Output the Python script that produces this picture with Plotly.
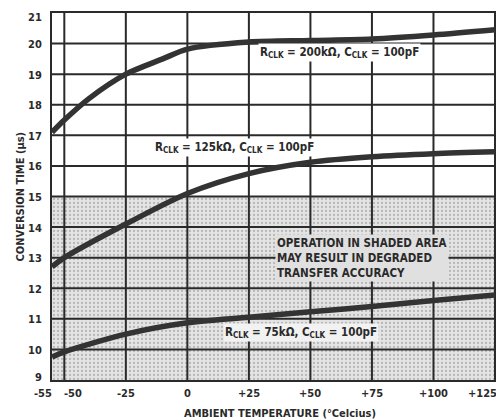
import plotly.graph_objects as go

# Data
temp_200k = [-55, -50, -40, -25, -10, 0, 25, 50, 75, 100, 125]
conv_200k = [17.1, 17.5, 18.2, 19.0, 19.5, 19.82, 20.05, 20.1, 20.15, 20.28, 20.45]

temp_125k = [-55, -50, -25, 0, 25, 50, 75, 100, 125]
conv_125k = [12.7, 13.0, 14.1, 15.1, 15.75, 16.12, 16.3, 16.4, 16.46]

temp_75k = [-55, -50, -25, 0, 25, 50, 75, 100, 125]
conv_75k = [9.75, 9.92, 10.5, 10.87, 11.05, 11.23, 11.4, 11.6, 11.78]

x_ticks = [-55, -50, -25, 0, 25, 50, 75, 100, 125]
x_tick_labels = ["-55", "-50", "-25", "0", "+25", "+50", "+75", "+100", "+125"]
y_ticks = list(range(9, 22))

shade_low, shade_high = 9, 15
x_min, x_max = -55, 125
y_min, y_max = 9, 21

FONT = "Liberation Sans Narrow, DejaVu Sans Condensed, Liberation Sans, Arial"
INK = "#2a2a2a"

fig = go.Figure()

# shaded area
fig.add_trace(go.Scatter(
    x=[x_min, x_max, x_max, x_min, x_min],
    y=[shade_low, shade_low, shade_high, shade_high, shade_low],
    fill="toself", mode="lines", line=dict(width=0),
    fillcolor="#d9d9d9",
    fillpattern=dict(shape=".", bgcolor="#e4e4e4", fgcolor="#8a8a8a", size=4, solidity=0.25),
    hoverinfo="skip", showlegend=False))

# grid lines as traces (above shade, below curves)
for xv in x_ticks[1:]:
    fig.add_trace(go.Scatter(x=[xv, xv], y=[y_min, y_max], mode="lines",
                             line=dict(color=INK, width=2), hoverinfo="skip", showlegend=False))
for yv in y_ticks[1:-1]:
    fig.add_trace(go.Scatter(x=[x_min, x_max], y=[yv, yv], mode="lines",
                             line=dict(color=INK, width=2), hoverinfo="skip", showlegend=False))

for tx, ty in [(temp_200k, conv_200k), (temp_125k, conv_125k), (temp_75k, conv_75k)]:
    fig.add_trace(go.Scatter(x=tx, y=ty, mode="lines",
                             line=dict(color="#333333", width=5.5, shape="spline", smoothing=0.8),
                             showlegend=False))

ann_font = dict(family=FONT, size=11.5, color=INK)
fig.add_annotation(x=62, y=19.7, text="<b>R<sub>CLK</sub> = 200kΩ, C<sub>CLK</sub> = 100pF</b>",
                   showarrow=False, font=ann_font, bgcolor="white")
fig.add_annotation(x=19, y=16.6, text="<b>R<sub>CLK</sub> = 125kΩ, C<sub>CLK</sub> = 100pF</b>",
                   showarrow=False, font=ann_font, bgcolor="white")
fig.add_annotation(x=46, y=10.55, text="<b>R<sub>CLK</sub> = 75kΩ, C<sub>CLK</sub> = 100pF</b>",
                   showarrow=False, font=ann_font, bgcolor="#f2f2f2")
fig.add_annotation(x=71, y=13.0,
                   text="<b>OPERATION IN SHADED AREA<br>MAY RESULT IN DEGRADED<br>TRANSFER ACCURACY</b>",
                   showarrow=False, align="left", font=dict(family=FONT, size=11.5, color=INK),
                   bgcolor="#e0e0e0")

# x tick labels as annotations (the end labels are nudged as in the original)
x_label_shift = {-55: -9, -50: 9, 125: -13}
for xv, lab in zip(x_ticks, x_tick_labels):
    fig.add_annotation(x=xv, y=0, xref="x", yref="paper", yanchor="top", yshift=-5,
                       xshift=x_label_shift.get(xv, 0), text="<b>%s</b>" % lab, showarrow=False,
                       font=dict(family=FONT, size=11, color=INK))

# y tick labels as annotations
y_label_shift = {9: 3, 21: -4}
for yv in y_ticks:
    fig.add_annotation(x=0, xref="paper", y=yv, yref="y", xanchor="right", xshift=-8,
                       yshift=y_label_shift.get(yv, -1),
                       text="<b>%d</b>" % yv, showarrow=False,
                       font=dict(family=FONT, size=11, color=INK))

# axis titles
fig.add_annotation(x=0.5, xref="paper", y=0, yref="paper", yanchor="top", yshift=-25,
                   xshift=6, text="<b>AMBIENT TEMPERATURE (°Celcius)</b>", showarrow=False,
                   font=dict(family=FONT, size=11, color=INK))
fig.add_annotation(x=0, xref="paper", y=0.5, yref="paper", xanchor="center", xshift=-32,
                   text="<b>CONVERSION TIME (µs)</b>", textangle=-90, showarrow=False,
                   font=dict(family=FONT, size=11, color=INK))

fig.update_layout(
    width=504, height=420,
    margin=dict(l=44, r=17, t=5, b=48),
    paper_bgcolor="white", plot_bgcolor="white",
    font=dict(family=FONT, size=11, color=INK),
    xaxis=dict(range=[x_min, x_max], showticklabels=False, automargin=False,
               showgrid=False, zeroline=False, showline=True, mirror=True, linecolor=INK, linewidth=2,
               ticks=""),
    yaxis=dict(range=[y_min, y_max], showticklabels=False, automargin=False,
               showgrid=False, zeroline=False, showline=True, mirror=True, linecolor=INK, linewidth=2,
               ticks=""),
)

fig.write_html("out.html")
